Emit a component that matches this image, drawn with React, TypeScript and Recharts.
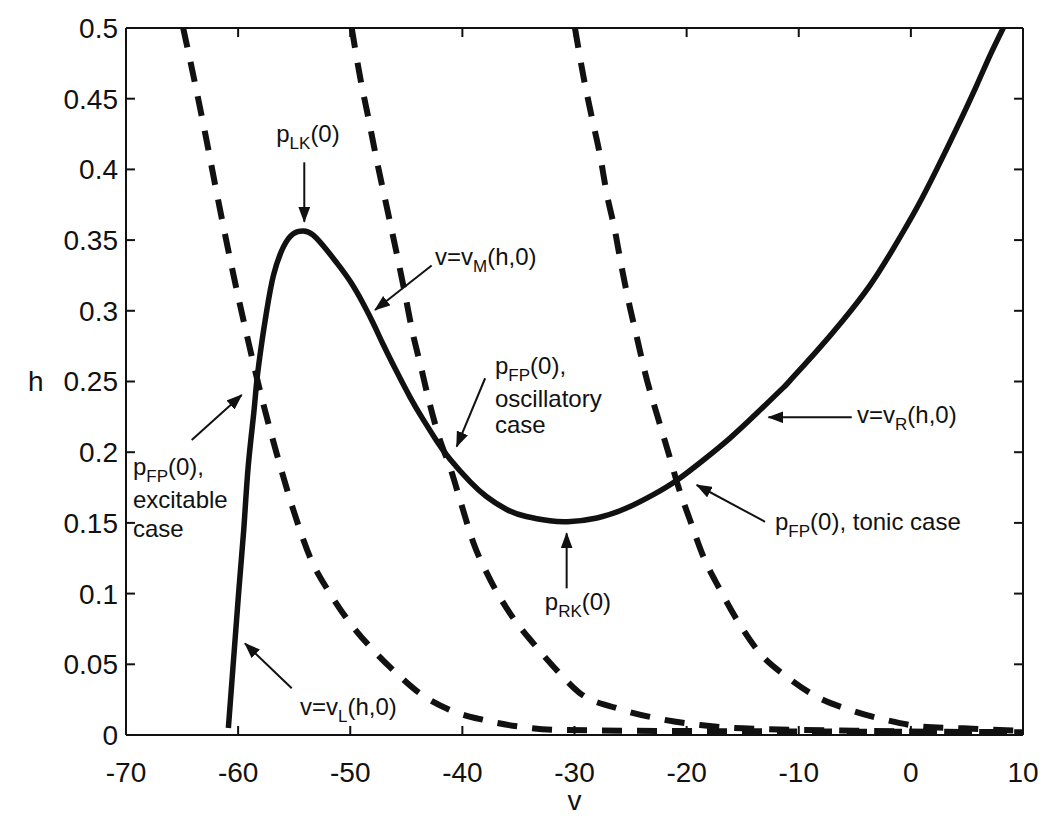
import React from "react";
import { LineChart, Line, XAxis, YAxis, ReferenceLine, ReferenceDot } from "recharts";

// axis ticks
const X_TICKS = [-70, -60, -50, -40, -30, -20, -10, 0, 10];
const Y_TICKS = [0, 0.05, 0.1, 0.15, 0.2, 0.25, 0.3, 0.35, 0.4, 0.45, 0.5];

// v-nullcline (solid)
const SOLID_V = [
  -60.87, -60.43, -59.98, -59.5, -59.1, -58.6, -58.34, -57.9, -57.45, -56.85, -55.97, -55.08, -54.19, -53.3,
  -52.1, -51.21, -50.02, -48.84, -47.94, -47.05, -45.86, -44.67, -43.49, -42.29, -41.1, -39.3, -37.83, -36.05,
  -34.3, -32.2, -30.6, -28.0, -25.35, -22.97, -20.9, -18.5, -16.13, -13.75, -11.4, -10.8, -8.4, -6.03, -3.65,
  -1.57, 0.51, 2.3, 4.08, 5.87, 7.05, 8.24,
];
const SOLID_H = [
  0.005, 0.051, 0.098, 0.145, 0.19, 0.228, 0.25, 0.277, 0.3, 0.325, 0.345, 0.3545, 0.3565, 0.3535,
  0.343, 0.334, 0.321, 0.305, 0.291, 0.276, 0.257, 0.239, 0.223, 0.208, 0.195, 0.179, 0.1685, 0.1595,
  0.1545, 0.1515, 0.1508, 0.1535, 0.1605, 0.17, 0.18, 0.1945, 0.21, 0.2275, 0.2455, 0.2505, 0.2715, 0.2935, 0.318,
  0.344, 0.3725, 0.4, 0.429, 0.4595, 0.4805, 0.5,
];

// h-nullclines (dashed), three cases
const DASH1_V = [
  -64.9, -63.85, -62.95, -61.9, -60.7, -59.2, -57.75, -56.56, -55.07, -53.6, -51.8, -50.0, -47.95, -45.86,
  -43.8, -41.1, -38.1, -34.9, -31.0, -20, -10, 0, 10,
];
const DASH1_H = [
  0.5, 0.461, 0.426, 0.383, 0.336, 0.282, 0.234, 0.199, 0.159, 0.126, 0.1, 0.079, 0.06, 0.0436,
  0.0295, 0.0177, 0.0106, 0.0059, 0.0035, 0.0028, 0.0025, 0.0022, 0.002,
];

const DASH2_V = [
  -49.87, -49.13, -48.4, -47.64, -46.75, -45.86, -45.12, -44.45, -43.7, -43.0, -42.1, -41.0, -40.2, -39.0,
  -37.5, -35.75, -33.67, -31.6, -29.5, -26.2, -22.67, -18.8, -15.0, -5, 10,
];
const DASH2_H = [
  0.5, 0.4656, 0.437, 0.4066, 0.3736, 0.3407, 0.312, 0.285, 0.2605, 0.237, 0.211, 0.187, 0.166, 0.1356,
  0.1096, 0.086, 0.0648, 0.046, 0.0295, 0.0189, 0.0118, 0.0071, 0.0047, 0.003, 0.002,
];

const DASH3_V = [
  -29.96, -29.2, -28.46, -27.7, -27.13, -26.4, -25.8, -25.2, -24.45, -23.7, -22.5, -21.6, -20.74, -19.7,
  -18.5, -17.0, -15.5, -13.46, -11.07, -8.4, -5.43, -2.2, 1.1, 4.7, 7.9, 10,
];
const DASH3_H = [
  0.5, 0.4656, 0.437, 0.409, 0.383, 0.357, 0.331, 0.3076, 0.2817, 0.256, 0.2228, 0.199, 0.1756, 0.152,
  0.126, 0.1025, 0.0813, 0.0578, 0.0412, 0.0271, 0.0177, 0.0106, 0.0059, 0.0047, 0.0035, 0.003,
];

// annotation arrows: [v, h] start -> end (arrow head at end)
const ARROWS = [
  { from: [-54.1, 0.405], to: [-54.1, 0.363] },
  { from: [-42.74, 0.332], to: [-47.79, 0.3006] },
  { from: [-37.97, 0.2523], to: [-40.51, 0.2039] },
  { from: [-64.14, 0.2086], to: [-59.68, 0.2405] },
  { from: [-55.22, 0.033], to: [-59.39, 0.0648] },
  { from: [-30.7, 0.1037], to: [-30.7, 0.1426] },
  { from: [-13.01, 0.1508], to: [-19.1, 0.1768] },
  { from: [-5.27, 0.2247], to: [-12.7, 0.2247] },
];

type Seg = { t: string; sub?: boolean };
type Note = { v: number; h: number; anchor?: "start" | "middle"; segs: Seg[] };

const NOTES: Note[] = [
  { v: -53.77, h: 0.4194, anchor: "middle", segs: [{ t: "p" }, { t: "LK", sub: true }, { t: "(0)" }] },
  { v: -42.44, h: 0.3324, segs: [{ t: "v=v" }, { t: "M", sub: true }, { t: "(h,0)" }] },
  { v: -37.09, h: 0.2553, segs: [{ t: "p" }, { t: "FP", sub: true }, { t: "(0)," }] },
  { v: -37.09, h: 0.232, segs: [{ t: "oscillatory" }] },
  { v: -37.09, h: 0.2136, segs: [{ t: "case" }] },
  { v: -69.38, h: 0.1839, segs: [{ t: "p" }, { t: "FP", sub: true }, { t: "(0)," }] },
  { v: -69.38, h: 0.1605, segs: [{ t: "excitable" }] },
  { v: -69.38, h: 0.14, segs: [{ t: "case" }] },
  { v: -54.48, h: 0.0141, segs: [{ t: "v=v" }, { t: "L", sub: true }, { t: "(h,0)" }] },
  { v: -29.69, h: 0.0884, anchor: "middle", segs: [{ t: "p" }, { t: "RK", sub: true }, { t: "(0)" }] },
  { v: -12.12, h: 0.145, segs: [{ t: "p" }, { t: "FP", sub: true }, { t: "(0), tonic case" }] },
  { v: -4.8, h: 0.2207, segs: [{ t: "v=v" }, { t: "R", sub: true }, { t: "(h,0)" }] },
];

const zip = (vs: number[], hs: number[]) => vs.map((v, i) => ({ v, h: hs[i] }));
const solid = zip(SOLID_V, SOLID_H);
const dash1 = zip(DASH1_V, DASH1_H);
const dash2 = zip(DASH2_V, DASH2_H);
const dash3 = zip(DASH3_V, DASH3_H);

const FONT = "'Liberation Sans', Arial, Helvetica, sans-serif";
const INK = "#111";
const TICK_LEN_X = 0.0064; // ~9px in h units
const TICK_LEN_Y = 0.8; // ~9px in v units

function noteShape(n: Note) {
  return (p: any) => (
    <text x={p.cx} y={p.cy} textAnchor={n.anchor ?? "start"} fontFamily={FONT} fontSize={24} fill={INK}>
      {n.segs.map((s, i) => {
        const prevSub = i > 0 && n.segs[i - 1].sub;
        const dy = s.sub ? 7 : prevSub ? -7 : 0;
        return (
          <tspan key={i} dy={dy} fontSize={s.sub ? 17 : 24}>
            {s.t}
          </tspan>
        );
      })}
    </text>
  );
}

const arrowShape = (p: any) => (
  <line x1={p.x1} y1={p.y1} x2={p.x2} y2={p.y2} stroke={INK} strokeWidth={2} markerEnd="url(#arrowHead)" />
);

export default function App() {
  return (
    <div>
      <svg width={0} height={0} style={{ position: "absolute" }}>
        <defs>
          <marker id="arrowHead" markerUnits="userSpaceOnUse" markerWidth={16} markerHeight={12} refX={15} refY={6} orient="auto">
            <path d="M0,0 L16,6 L0,12 z" fill={INK} />
          </marker>
        </defs>
      </svg>
      <LineChart width={1034} height={807} margin={{ top: 20, right: 19, left: 18, bottom: 0 }}>
        <XAxis
          dataKey="v"
          type="number"
          domain={[-70, 10]}
          ticks={X_TICKS}
          allowDataOverflow
          height={80}
          tickSize={0}
          tickMargin={27}
          axisLine={{ stroke: INK, strokeWidth: 2 }}
          tick={{ fill: INK, fontSize: 28, fontFamily: FONT }}
          label={{ value: "v", position: "insideBottom", offset: 5, fill: INK, fontSize: 28, fontFamily: FONT }}
        />
        <YAxis
          type="number"
          domain={[0, 0.5]}
          ticks={Y_TICKS}
          allowDataOverflow
          width={100}
          tickSize={0}
          tickMargin={8}
          axisLine={{ stroke: INK, strokeWidth: 2 }}
          tick={{ fill: INK, fontSize: 28, fontFamily: FONT }}
          label={{ value: "h", position: "insideLeft", offset: 2, fill: INK, fontSize: 28, fontFamily: FONT }}
        />
        {/* box top/right */}
        <ReferenceLine y={0.5} stroke={INK} strokeWidth={2} />
        <ReferenceLine x={10} stroke={INK} strokeWidth={2} />
        {/* inward ticks on all four sides */}
        {X_TICKS.map((t) => (
          <ReferenceLine key={"xb" + t} segment={[{ x: t, y: 0 }, { x: t, y: TICK_LEN_X }]} stroke={INK} strokeWidth={2} />
        ))}
        {X_TICKS.map((t) => (
          <ReferenceLine key={"xt" + t} segment={[{ x: t, y: 0.5 }, { x: t, y: 0.5 - TICK_LEN_X }]} stroke={INK} strokeWidth={2} />
        ))}
        {Y_TICKS.map((t) => (
          <ReferenceLine key={"yl" + t} segment={[{ x: -70, y: t }, { x: -70 + TICK_LEN_Y, y: t }]} stroke={INK} strokeWidth={2} />
        ))}
        {Y_TICKS.map((t) => (
          <ReferenceLine key={"yr" + t} segment={[{ x: 10, y: t }, { x: 10 - TICK_LEN_Y, y: t }]} stroke={INK} strokeWidth={2} />
        ))}
        <Line data={dash1} dataKey="h" type="monotone" stroke={INK} strokeWidth={6} strokeDasharray="20 15" dot={false} activeDot={false} isAnimationActive={false} />
        <Line data={dash2} dataKey="h" type="monotone" stroke={INK} strokeWidth={6} strokeDasharray="20 15" dot={false} activeDot={false} isAnimationActive={false} />
        <Line data={dash3} dataKey="h" type="monotone" stroke={INK} strokeWidth={6} strokeDasharray="20 15" dot={false} activeDot={false} isAnimationActive={false} />
        <Line data={solid} dataKey="h" type="natural" stroke={INK} strokeWidth={5.5} dot={false} activeDot={false} isAnimationActive={false} />
        {ARROWS.map((a, i) => (
          <ReferenceLine
            key={"ar" + i}
            segment={[{ x: a.from[0], y: a.from[1] }, { x: a.to[0], y: a.to[1] }]}
            shape={arrowShape}
          />
        ))}
        {NOTES.map((n, i) => (
          <ReferenceDot key={"nt" + i} x={n.v} y={n.h} r={1} shape={noteShape(n)} />
        ))}
      </LineChart>
    </div>
  );
}
